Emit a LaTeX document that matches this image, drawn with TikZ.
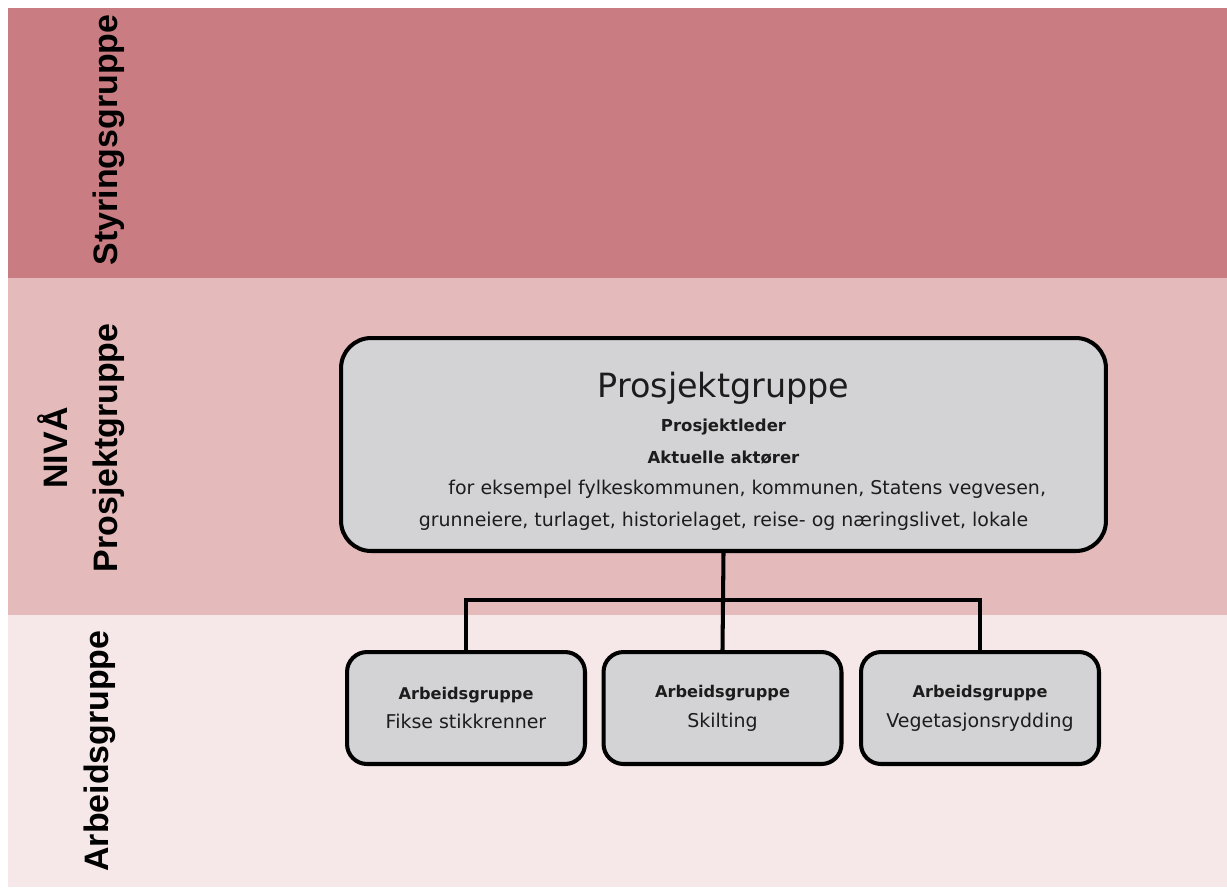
\documentclass[tikz,border=0pt]{standalone}
\usepackage{fontspec}
\setmainfont{DejaVu Sans}
\newfontfamily\nivafont{Liberation Sans}
\usetikzlibrary{positioning}

\definecolor{styring}{RGB}{201,125,130}
\definecolor{prosjekt}{RGB}{228,186,186}
\definecolor{arbeid}{RGB}{246,231,232}
\definecolor{boks}{RGB}{211,211,213}
\definecolor{tekst}{RGB}{28,28,28}

\tikzset{
  niva/.style={rotate=90, anchor=base, text=black,
    font=\nivafont\bfseries\fontsize{19.3}{22}\selectfont},
  hovedboks/.style={draw=black, line width=2.3pt, fill=boks, rounded corners=0.6cm,
    minimum width=15.3cm, minimum height=4.26cm, align=center, text=tekst,
    font=\fontsize{10.8}{17.9}\selectfont},
  arbeidsboks/.style={draw=black, line width=2.3pt, fill=boks, rounded corners=0.4cm,
    minimum width=4.76cm, minimum height=2.24cm, align=center, text=tekst,
    font=\fontsize{10.8}{17}\selectfont},
  linje/.style={line width=2.3pt}
}

\begin{document}
\begin{tikzpicture}[x=0.02cm, y=-0.02cm]
      \useasboundingbox (0,0) rectangle (1227,887);

      % bakgrunn
      \fill[styring] (8,8) rectangle (1227,278);
      \fill[prosjekt] (8,278) rectangle (1227,615);
      \fill[arbeid] (8,615) rectangle (1227,887);

      % nivaer
      \node[niva] (styringsgruppe) at (117,140) {Styringsgruppe};
      \node[niva] (nivaa) at (67,448) {NIVÅ};
      \node[niva] (prosjektniva) at (117,448) {Prosjektgruppe};
      \node[niva] (arbeidsniva) at (108,751) {Arbeidsgruppe};

      % bokser
      \node[hovedboks] (prosjektgruppe) at (723.5,444.5)
        {\rule{0pt}{22pt}{\fontsize{19}{22}\selectfont Prosjektgruppe}\\[1.5pt]
         {\bfseries\fontsize{9.4}{17.9}\selectfont Prosjektleder}\\
         {\bfseries\fontsize{9.4}{17.9}\selectfont Aktuelle aktører}\\
         \hspace*{27pt}for eksempel fylkeskommunen, kommunen, Statens vegvesen,\\
         grunneiere, turlaget, historielaget, reise- og næringslivet, lokale};

      \node[arbeidsboks] (stikkrenner) at (466,708)
        {{\bfseries\fontsize{9.2}{17}\selectfont Arbeidsgruppe}\\Fikse stikkrenner};
      \node[arbeidsboks] (skilting) at (722.5,708)
        {{\bfseries\fontsize{9.2}{17}\selectfont Arbeidsgruppe}\\Skilting};
      \node[arbeidsboks] (vegetasjon) at (980,708)
        {{\bfseries\fontsize{9.2}{17}\selectfont Arbeidsgruppe}\\Vegetasjonsrydding};

      % forbindelser
      \coordinate (knute) at (722.5,600);
      \draw[linje] (prosjektgruppe.south) -- (skilting.north);
      \draw[linje] (stikkrenner.north) -- (stikkrenner.north |- knute)
        -- (vegetasjon.north |- knute) -- (vegetasjon.north);

\end{tikzpicture}
\end{document}
